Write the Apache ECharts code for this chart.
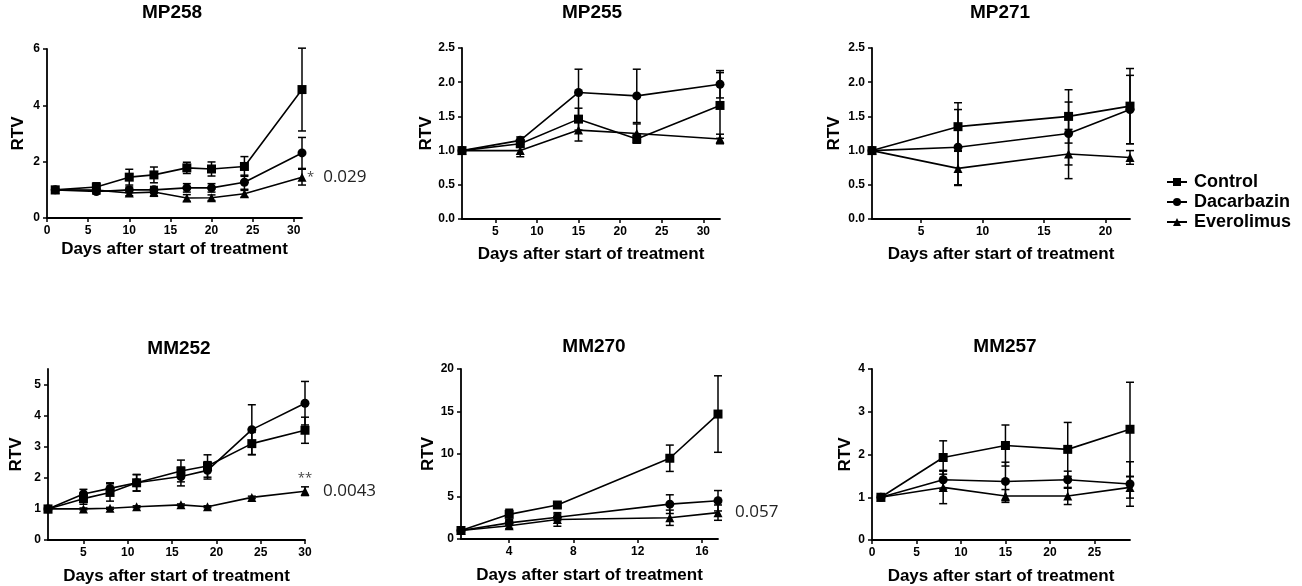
<!DOCTYPE html>
<html lang="en">
<head>
    <meta charset="UTF-8">
    <title>RTV</title>
    <style>
        *{
            padding:0;
            margin:0;
        }
        body{
            background:#fff;
        }
    </style>
</head>
<script src="https://cdn.jsdelivr.net/npm/echarts@6/dist/echarts.min.js"></script>
<body>
    <div id="main" style="width: 1302px;height: 586px;"></div>
    <script>
        // groups
        var groupNames = ['Control', 'Dacarbazin', 'Everolimus'];

        // MP258
        var mp258Days = [1, 6, 10, 13, 17, 20, 24, 31];
        var mp258Control = [1.0, 1.1, 1.45, 1.53, 1.78, 1.74, 1.83, 4.56];
        var mp258ControlErr = [0, 0.15, 0.28, 0.28, 0.2, 0.25, 0.35, 1.47];
        var mp258Dacarbazin = [1.0, 0.94, 1.0, 1.0, 1.07, 1.07, 1.27, 2.31];
        var mp258DacarbazinErr = [0, 0.08, 0.1, 0.12, 0.15, 0.15, 0.25, 0.55];
        var mp258Everolimus = [1.0, 0.99, 0.89, 0.92, 0.71, 0.72, 0.86, 1.45];
        var mp258EverolimusErr = [0, 0.06, 0.1, 0.15, 0.12, 0.1, 0.12, 0.28];
        var mp258XTicks = [0, 5, 10, 15, 20, 25, 30];
        var mp258YTicks = [0, 2, 4, 6];

        // MP255
        var mp255Days = [1, 8, 15, 22, 32];
        var mp255Control = [1.0, 1.1, 1.46, 1.17, 1.66];
        var mp255ControlErr = [0, 0.05, 0.16, 0.06, 0.48];
        var mp255Dacarbazin = [1.0, 1.15, 1.85, 1.8, 1.97];
        var mp255DacarbazinErr = [0, 0.05, 0.34, 0.39, 0.2];
        var mp255Everolimus = [1.0, 1.0, 1.3, 1.25, 1.17];
        var mp255EverolimusErr = [0, 0.09, 0.16, 0.14, 0.07];
        var mp255XTicks = [5, 10, 15, 20, 25, 30];
        var mp255YTicks = [0, 0.5, 1.0, 1.5, 2.0, 2.5];

        // MP271
        var mp271Days = [1, 8, 17, 22];
        var mp271Control = [1.0, 1.35, 1.5, 1.65];
        var mp271ControlErr = [0, 0.35, 0.39, 0.55];
        var mp271Dacarbazin = [1.0, 1.05, 1.25, 1.6];
        var mp271DacarbazinErr = [0, 0.55, 0.46, 0.5];
        var mp271Everolimus = [1.0, 0.74, 0.95, 0.9];
        var mp271EverolimusErr = [0, 0.25, 0.36, 0.1];
        var mp271XTicks = [5, 10, 15, 20];
        var mp271YTicks = [0, 0.5, 1.0, 1.5, 2.0, 2.5];

        // MM252
        var mm252Days = [1, 5, 8, 11, 16, 19, 24, 30];
        var mm252Control = [1.0, 1.33, 1.53, 1.84, 2.22, 2.38, 3.1, 3.53];
        var mm252ControlErr = [0, 0.18, 0.28, 0.27, 0.35, 0.36, 0.36, 0.42];
        var mm252Dacarbazin = [1.0, 1.48, 1.66, 1.84, 2.04, 2.24, 3.55, 4.4];
        var mm252DacarbazinErr = [0, 0.15, 0.18, 0.26, 0.3, 0.28, 0.8, 0.7];
        var mm252Everolimus = [1.0, 1.0, 1.02, 1.07, 1.13, 1.07, 1.37, 1.57];
        var mm252EverolimusErr = [0, 0.03, 0.03, 0.03, 0.03, 0.03, 0.04, 0.14];
        var mm252XTicks = [5, 10, 15, 20, 25, 30];
        var mm252YTicks = [0, 1, 2, 3, 4, 5];

        // MM270
        var mm270Days = [1, 4, 7, 14, 17];
        var mm270Control = [1.0, 2.9, 4.0, 9.5, 14.7];
        var mm270ControlErr = [0, 0.6, 0.3, 1.55, 4.5];
        var mm270Dacarbazin = [1.0, 1.9, 2.55, 4.1, 4.5];
        var mm270DacarbazinErr = [0, 0.3, 0.4, 1.1, 1.2];
        var mm270Everolimus = [1.0, 1.55, 2.3, 2.5, 3.1];
        var mm270EverolimusErr = [0, 0.3, 0.8, 0.9, 0.9];
        var mm270XTicks = [4, 8, 12, 16];
        var mm270YTicks = [0, 5, 10, 15, 20];

        // MM257
        var mm257Days = [1, 8, 15, 22, 29];
        var mm257Control = [1.0, 1.93, 2.21, 2.12, 2.59];
        var mm257ControlErr = [0, 0.39, 0.48, 0.63, 1.1];
        var mm257Dacarbazin = [1.0, 1.41, 1.37, 1.41, 1.31];
        var mm257DacarbazinErr = [0, 0.22, 0.45, 0.2, 0.52];
        var mm257Everolimus = [1.0, 1.23, 1.03, 1.03, 1.23];
        var mm257EverolimusErr = [0, 0.38, 0.15, 0.2, 0.25];
        var mm257XTicks = [0, 5, 10, 15, 20, 25];
        var mm257YTicks = [0, 1, 2, 3, 4];

        // p-values written next to the Everolimus curve
        var mp258Note = '0.029';
        var mm252Note = '0.0043';
        var mm270Note = '0.057';

        var panels = [
            {title: 'MP258', days: mp258Days, vals: [mp258Control, mp258Dacarbazin, mp258Everolimus],
             errs: [mp258ControlErr, mp258DacarbazinErr, mp258EverolimusErr], xTicks: mp258XTicks, yTicks: mp258YTicks},
            {title: 'MP255', days: mp255Days, vals: [mp255Control, mp255Dacarbazin, mp255Everolimus],
             errs: [mp255ControlErr, mp255DacarbazinErr, mp255EverolimusErr], xTicks: mp255XTicks, yTicks: mp255YTicks},
            {title: 'MP271', days: mp271Days, vals: [mp271Control, mp271Dacarbazin, mp271Everolimus],
             errs: [mp271ControlErr, mp271DacarbazinErr, mp271EverolimusErr], xTicks: mp271XTicks, yTicks: mp271YTicks},
            {title: 'MM252', days: mm252Days, vals: [mm252Control, mm252Dacarbazin, mm252Everolimus],
             errs: [mm252ControlErr, mm252DacarbazinErr, mm252EverolimusErr], xTicks: mm252XTicks, yTicks: mm252YTicks},
            {title: 'MM270', days: mm270Days, vals: [mm270Control, mm270Dacarbazin, mm270Everolimus],
             errs: [mm270ControlErr, mm270DacarbazinErr, mm270EverolimusErr], xTicks: mm270XTicks, yTicks: mm270YTicks},
            {title: 'MM257', days: mm257Days, vals: [mm257Control, mm257Dacarbazin, mm257Everolimus],
             errs: [mm257ControlErr, mm257DacarbazinErr, mm257EverolimusErr], xTicks: mm257XTicks, yTicks: mm257YTicks}
        ];

        // layout of each panel (pixels)
        var layout = [
            {left: 47, top: 49, width: 255, height: 169, xMin: 0, xMax: 31, yMax: 6, yGap: 20, xGap: 23, titleX: 172, titleTop: 3, dec: 0},
            {left: 462, top: 48, width: 258, height: 171, xMin: 1, xMax: 32, yMax: 2.5, yGap: 22, xGap: 27, titleX: 592, titleTop: 3, dec: 1},
            {left: 872, top: 48, width: 258, height: 171, xMin: 1, xMax: 22, yMax: 2.5, yGap: 29, xGap: 27, titleX: 1000, titleTop: 3, dec: 1},
            {left: 48, top: 369, width: 257, height: 171, xMin: 1, xMax: 30, yMax: 5.5, yGap: 23, xGap: 28, titleX: 179, titleTop: 339, dec: 0},
            {left: 461, top: 369, width: 257, height: 170, xMin: 1, xMax: 17, yMax: 20, yGap: 23, xGap: 28, titleX: 594, titleTop: 337, dec: 0},
            {left: 872, top: 369, width: 258, height: 171, xMin: 0, xMax: 29, yMax: 4, yGap: 18, xGap: 28, titleX: 1005, titleTop: 337, dec: 0}
        ];

        var symbols = ['rect', 'circle', 'triangle'];
        var symbolSizes = [9, 9, 9];
        var fontFam = '"Liberation Sans", Arial, sans-serif';

        var renderErr = function (params, api) {
            var x = api.value(0), y = api.value(1), e = api.value(2);
            if (!e) {
                return;
            }
            var top = api.coord([x, y + e]);
            var bot = api.coord([x, y - e]);
            var w = 4;
            var st = {stroke: '#000', lineWidth: 1.5};
            return {
                type: 'group',
                children: [
                    {type: 'line', shape: {x1: top[0], y1: top[1], x2: bot[0], y2: bot[1]}, style: st},
                    {type: 'line', shape: {x1: top[0] - w, y1: top[1], x2: top[0] + w, y2: top[1]}, style: st},
                    {type: 'line', shape: {x1: bot[0] - w, y1: bot[1], x2: bot[0] + w, y2: bot[1]}, style: st}
                ]
            };
        };

        var myChart = echarts.init(document.getElementById('main'));
        var grids = [], xAxes = [], yAxes = [], titles = [], series = [];

        for (var i = 0; i < panels.length; i++) {
            var p = panels[i], L = layout[i];
            grids.push({left: L.left, top: L.top, width: L.width, height: L.height, containLabel: false});
            titles.push({
                text: p.title, left: L.titleX, top: L.titleTop, textAlign: 'center', padding: 0,
                textStyle: {fontFamily: fontFam, fontSize: 19, fontWeight: 'bold', color: '#000'}
            });
            xAxes.push({
                gridIndex: i, type: 'value', min: L.xMin, max: L.xMax,
                name: 'Days after start of treatment', nameLocation: 'middle', nameGap: L.xGap,
                nameTextStyle: {fontFamily: fontFam, fontSize: 17, fontWeight: 'bold', color: '#000'},
                axisLine: {show: true, onZero: false, lineStyle: {color: '#000', width: 1.8}},
                axisTick: {show: true, length: 4, customValues: p.xTicks, lineStyle: {color: '#000', width: 1.5}},
                axisLabel: {customValues: p.xTicks, margin: 7, fontFamily: fontFam, fontSize: 12, fontWeight: 'bold', color: '#000'},
                splitLine: {show: false}
            });
            yAxes.push({
                gridIndex: i, type: 'value', min: 0, max: L.yMax,
                name: 'RTV', nameLocation: 'middle', nameGap: L.yGap,
                nameTextStyle: {fontFamily: fontFam, fontSize: 17, fontWeight: 'bold', color: '#000'},
                axisLine: {show: true, onZero: false, lineStyle: {color: '#000', width: 1.8}},
                axisTick: {show: true, length: 4, customValues: p.yTicks, lineStyle: {color: '#000', width: 1.5}},
                axisLabel: {
                    customValues: p.yTicks, margin: 7, fontFamily: fontFam, fontSize: 12, fontWeight: 'bold', color: '#000',
                    formatter: (function (d) { return function (v) { return v.toFixed(d); }; })(L.dec)
                },
                splitLine: {show: false}
            });
            for (var g = 0; g < 3; g++) {
                var pts = [], ebs = [];
                for (var k = 0; k < p.days.length; k++) {
                    pts.push([p.days[k], p.vals[g][k]]);
                    ebs.push([p.days[k], p.vals[g][k], p.errs[g][k]]);
                }
                series.push({
                    type: 'custom', xAxisIndex: i, yAxisIndex: i, renderItem: renderErr,
                    data: ebs, encode: {x: 0, y: 1}, silent: true, z: 1
                });
                series.push({
                    name: groupNames[g], type: 'line', xAxisIndex: i, yAxisIndex: i,
                    data: pts, symbol: symbols[g], symbolSize: symbolSizes[g], showSymbol: true,
                    lineStyle: {color: '#000', width: 1.6}, itemStyle: {color: '#000'},
                    animation: false, z: 3
                });
            }
        }

        // annotations on the Everolimus curves
        var noteFont = '"Open Sans", "Noto Sans", sans-serif';
        var lastOf = function (arr) { return arr[arr.length - 1]; };
        var evo = function (i) { return series[i * 6 + 5]; };
        evo(0).markPoint = {
            symbol: 'circle', symbolSize: 0, silent: true, animation: false,
            data: [{coord: [lastOf(mp258Days), lastOf(mp258Everolimus)],
                label: {show: true, position: 'right', distance: 5, formatter: '{s|*}{n|' + mp258Note + '}',
                    rich: {s: {fontSize: 13, color: '#444', fontFamily: noteFont},
                           n: {fontSize: 17, color: '#222', fontFamily: noteFont, padding: [0, 0, 0, 9]}}}}]
        };
        evo(3).markPoint = {
            symbol: 'circle', symbolSize: 0, silent: true, animation: false,
            data: [
                {coord: [lastOf(mm252Days), lastOf(mm252Everolimus)],
                    label: {show: true, position: 'right', distance: 18, formatter: mm252Note,
                        fontFamily: noteFont, fontSize: 17, color: '#222'}},
                {coord: [lastOf(mm252Days), lastOf(mm252Everolimus)],
                    label: {show: true, position: 'top', distance: 6, formatter: '**',
                        fontFamily: noteFont, fontSize: 13, color: '#444'}}
            ]
        };
        evo(4).markPoint = {
            symbol: 'circle', symbolSize: 0, silent: true, animation: false,
            data: [{coord: [lastOf(mm270Days), lastOf(mm270Everolimus)],
                label: {show: true, position: 'right', distance: 17, formatter: mm270Note,
                    fontFamily: noteFont, fontSize: 17, color: '#222'}}]
        };

        var option = {
            backgroundColor: '#fff',
            animation: false,
            title: titles,
            grid: grids,
            xAxis: xAxes,
            yAxis: yAxes,
            legend: {
                data: groupNames, orient: 'vertical', left: 1166, top: 173,
                itemWidth: 20, itemHeight: 10, itemGap: 2, padding: 0,
                textStyle: {fontFamily: fontFam, fontSize: 18, fontWeight: 'bold', color: '#000', padding: [0, 0, 0, 2]}
            },
            series: series
        };
        myChart.setOption(option);
    </script>
</body>
</html>
